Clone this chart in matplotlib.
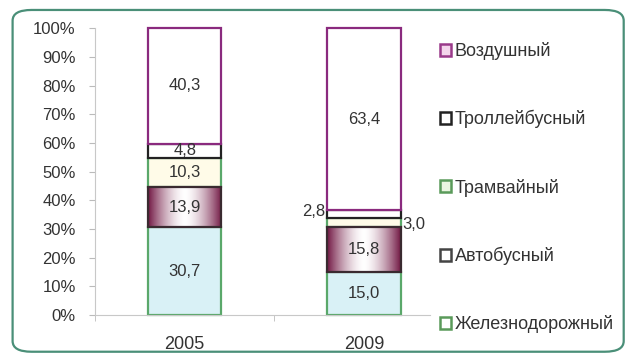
import numpy as np
from matplotlib import pyplot as plt
from matplotlib.patches import Patch, FancyBboxPatch

plt.rcParams['font.family'] = ['Liberation Sans', 'DejaVu Sans']

years = ['2005', '2009']
# bottom to top
modes = ['Железнодорожный', 'Автобусный', 'Трамвайный', 'Троллейбусный', 'Воздушный']
rail = [30.7, 15.0]
bus = [13.9, 15.8]
tram = [10.3, 3.0]
trolley = [4.8, 2.8]
air = [40.3, 63.4]

series = [rail, bus, tram, trolley, air]
fills = ['#d9f1f6', '#7a1f48', '#fffbe8', '#ffffff', '#ffffff']
edges = ['#5aa86a', '#3a2a30', '#5aa86a', '#222222', '#8a2a7e']
legend_fills = ['#ffffff', '#ffffff', '#eaf5e0', '#ffffff', '#f4d6ec']
legend_edges = ['#5a9a5a', '#444444', '#5a9a5a', '#222222', '#9a3a8a']

fig = plt.figure(figsize=(6.3, 3.56), dpi=100)

# rounded outer frame
frame = FancyBboxPatch((0.02, 0.012), 0.97, 0.96, boxstyle='round,pad=0,rounding_size=0.03',
                       transform=fig.transFigure, facecolor='white', edgecolor='#4a8f78',
                       linewidth=1.6, zorder=0)
fig.patches.append(frame)

# light blue gradient behind legend
bg = fig.add_axes([0.683, 0.07, 0.30, 0.87], zorder=0)
grad = np.interp(np.linspace(0, 1, 200), [0, 0.12, 0.35, 0.65, 0.9, 1], [0.15, 0.6, 1, 1, 0.5, 0.3])
col_a = np.array([1.0, 1.0, 1.0])
col_b = np.array([0.83, 0.92, 0.96])
img = col_a[None, None, :] * (1 - grad[:, None, None]) + col_b[None, None, :] * grad[:, None, None]
img = np.repeat(img, 20, axis=1)
bg.imshow(img, aspect='auto', extent=[0, 1, 0, 1], origin='lower')
bg.axis('off')

ax = fig.add_axes([0.151, 0.115, 0.532, 0.806], zorder=1)
ax.patch.set_alpha(0)
x = np.arange(len(years))
bottom = np.zeros(len(years))
containers = []
for vals, fc, ec in zip(series, fills, edges):
    bars = ax.bar(x, vals, 0.41, bottom=bottom, color=fc, edgecolor=ec, linewidth=1.6, zorder=2,
                  clip_on=False)
    containers.append(bars)
    bottom = bottom + np.array(vals)

# horizontal gradient on the bus segments
cmap_vals = np.abs(np.linspace(-1, 1, 100)) ** 1.6
dark = np.array([0.45, 0.10, 0.27])
light = np.array([1.0, 1.0, 1.0])
gimg = light[None, :] * (1 - cmap_vals[:, None]) + dark[None, :] * cmap_vals[:, None]
gimg = gimg[None, :, :]
for p in containers[1]:
    x0, y0 = p.get_x(), p.get_y()
    im = ax.imshow(gimg, aspect='auto', extent=[x0, x0 + p.get_width(), y0, y0 + p.get_height()],
                   zorder=2.5, interpolation='bilinear')
    im.set_clip_path(p)
    p.set_facecolor('none')
    p.set_zorder(3)

# value labels
txt = '#333333'
bottom = np.zeros(len(years))
for vals in series:
    for i, v in enumerate(vals):
        mid = bottom[i] + v / 2
        s = ('%.1f' % v).replace('.', ',')
        if i == 1 and v < 5:
            continue
        ax.text(x[i], mid, s, ha='center', va='center', fontsize=12, color=txt, zorder=4)
    bottom = bottom + np.array(vals)
# small segments of 2009 labelled outside
ax.text(x[1] - 0.215, rail[1] + bus[1] + tram[1] + trolley[1] / 2 + 1.0, ('%.1f' % trolley[1]).replace('.', ','),
        ha='right', va='center', fontsize=12, color=txt)
ax.text(x[1] + 0.215, rail[1] + bus[1] + tram[1] / 2 - 0.8, ('%.1f' % tram[1]).replace('.', ','),
        ha='left', va='center', fontsize=12, color=txt)

ax.set_xlim(-0.5, 1.37)
ax.set_ylim(0, 100)
ax.set_yticks(np.arange(0, 101, 10))
ax.set_yticklabels(['%d%%' % t for t in range(0, 101, 10)], fontsize=12, color='#333333')
ax.set_xticks(x)
ax.set_xticklabels(years, fontsize=13, color='#333333')
ax.set_xticks([-0.5, 0.5], minor=True)
ax.tick_params(axis='x', which='major', length=0, pad=15)
ax.tick_params(axis='x', which='minor', length=4, color='#bbbbbb')
ax.tick_params(axis='y', length=4, color='#bbbbbb', pad=10)
for s in ['top', 'right']:
    ax.spines[s].set_visible(False)
for s in ['left', 'bottom']:
    ax.spines[s].set_color('#c8c8c8')

handles = [Patch(facecolor=legend_fills[k], edgecolor=legend_edges[k], linewidth=1.8, label=modes[k])
           for k in range(len(modes) - 1, -1, -1)]
fig.legend(handles=handles, loc='upper left', bbox_to_anchor=(0.672, 0.928), frameon=False,
           fontsize=13, labelspacing=2.78, handlelength=0.65, handleheight=0.65, handletextpad=0.2,
           labelcolor='#333333')

fig.savefig('out.png', dpi=100)
